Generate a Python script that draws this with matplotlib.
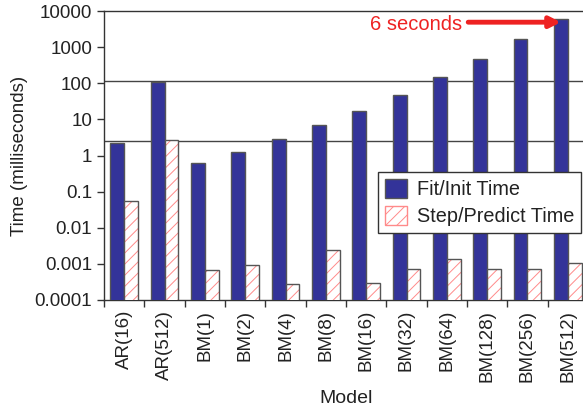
import matplotlib
matplotlib.use("Agg")
import matplotlib.pyplot as plt
import numpy as np
from matplotlib.ticker import LogLocator, FixedLocator, NullFormatter
from matplotlib.patches import Patch

plt.rcParams['font.family'] = ['Liberation Sans', 'DejaVu Sans']

models = ["AR(16)", "AR(512)", "BM(1)", "BM(2)", "BM(4)", "BM(8)", "BM(16)",
          "BM(32)", "BM(64)", "BM(128)", "BM(256)", "BM(512)"]
fit_time = [2.25, 110, 0.64, 1.29, 2.9, 7.0, 17.4, 48, 145, 474, 1690, 6170]
step_time = [0.054, 2.65, 0.00067, 0.00096, 0.00028, 0.0024, 0.00030,
             0.00073, 0.00139, 0.00073, 0.00073, 0.00103]
ref_lines = [115, 2.45]
yticks = [0.0001, 0.001, 0.01, 0.1, 1, 10, 100, 1000, 10000]
ytick_labels = ["0.0001", "0.001", "0.01", "0.1", "1", "10", "100", "1000", "10000"]

fig = plt.figure(figsize=(5.83, 4.12), dpi=100)
ax = fig.add_axes([104/583, 1-300/412, 484/583, 289/412])

x = np.arange(len(models))
w = 0.34
blue = "#333399"
edge = "#555555"
pink = "#ff8a8a"
txt = "#222222"

ax.bar(x - w/2, fit_time, w, color=blue, edgecolor=edge, linewidth=1, zorder=3,
       label="Fit/Init Time")
plt.rcParams['hatch.linewidth'] = 0.7
ax.bar(x + w/2, step_time, w, facecolor="white", edgecolor=pink, hatch="///",
       linewidth=0, zorder=3)
ax.bar(x + w/2, step_time, w, fill=False, edgecolor=edge, linewidth=1, zorder=4)

for v in ref_lines:
    ax.axhline(v, color="#444444", lw=1, zorder=1)

ax.set_yscale("log")
ax.set_ylim(0.0001, 10000)
ax.set_xlim(-0.5, len(models) - 0.5)
ax.yaxis.set_major_locator(FixedLocator(yticks))
ax.set_yticklabels(ytick_labels)
ax.yaxis.set_minor_locator(LogLocator(base=10, subs=np.arange(2, 10)))
ax.yaxis.set_minor_formatter(NullFormatter())
ax.tick_params(axis='y', which='major', direction='out', length=5, labelsize=13.5,
               width=1, color="#333333")
ax.tick_params(axis='y', which='minor', direction='in', length=3, width=0.7,
               color="#555555")

ax.set_xticks(x)
ax.set_xticklabels(models, rotation=90)
ax.set_xticks(np.arange(-0.5, len(models)), minor=True)
ax.tick_params(axis='x', which='major', length=0, labelsize=13.5, pad=7)
ax.tick_params(axis='x', which='minor', direction='out', length=5, width=1,
               color="#333333")

ax.spines["right"].set_visible(False)
for s in ["left", "bottom", "top"]:
    ax.spines[s].set_color("#333333")
    ax.spines[s].set_linewidth(1)

ax.set_ylabel("Time (milliseconds)", fontsize=13.5, color=txt, labelpad=5)
ax.set_xlabel("Model", fontsize=14, color=txt, labelpad=6)
for lab in ax.get_xticklabels() + ax.get_yticklabels():
    lab.set_color(txt)

# annotation
ax.annotate("", xy=(10.83, 4900), xytext=(8.53, 4900),
            arrowprops=dict(arrowstyle="-|>", color="#ee2222", lw=3.5,
                            mutation_scale=16, shrinkA=0, shrinkB=0), zorder=6)
ax.text(8.38, 4300, "6 seconds", ha="right", va="center", color="#ee2222",
        fontsize=14.5, zorder=6)

# legend
h1 = Patch(facecolor=blue, edgecolor=edge, label="Fit/Init Time")
h2 = Patch(facecolor="white", edgecolor=pink, hatch="///", label="Step/Predict Time")
leg = fig.legend(handles=[h1, h2], loc="upper left",
                 bbox_to_anchor=(378/583, 1-172/412), fontsize=14.3,
                 fancybox=False, framealpha=1, edgecolor="#333333",
                 handlelength=1.1, handleheight=1.1, borderpad=0.35,
                 labelspacing=0.35, handletextpad=0.5, borderaxespad=0)
leg.get_frame().set_linewidth(1)
for t in leg.get_texts():
    t.set_color(txt)

fig.savefig("out.png", dpi=100)
